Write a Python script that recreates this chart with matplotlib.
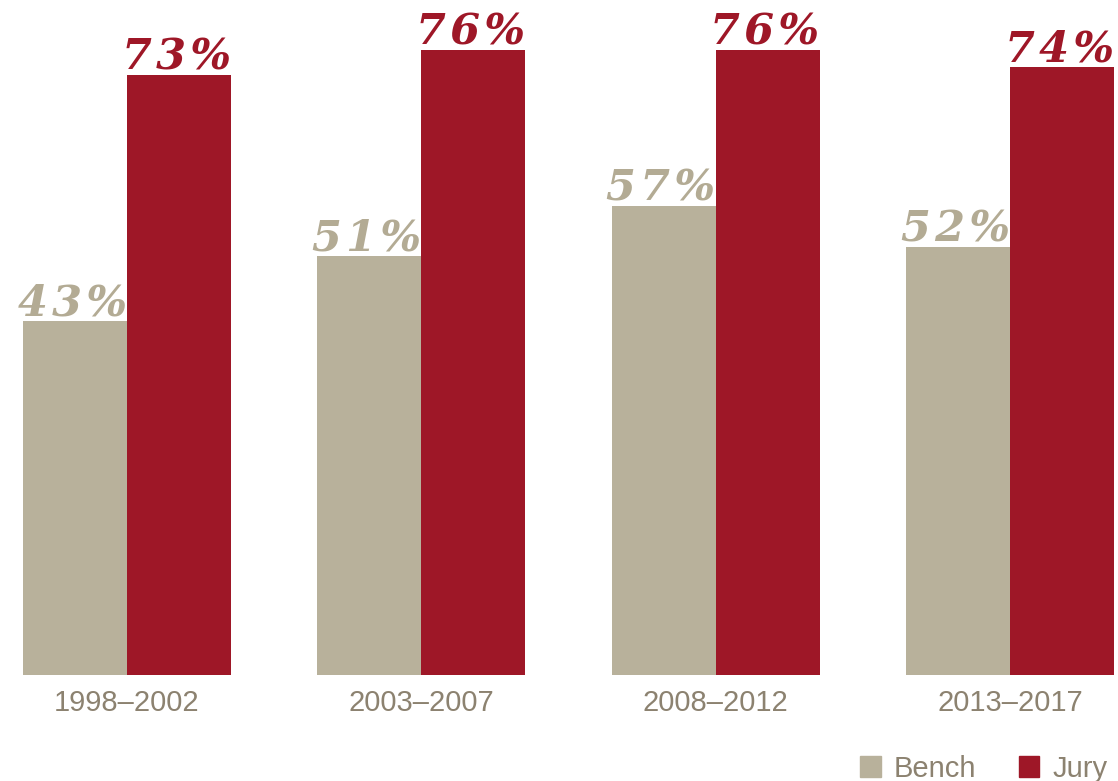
import matplotlib.pyplot as plt
from matplotlib.patches import Patch

periods = ['1998\u20132002', '2003\u20132007', '2008\u20132012', '2013\u20132017']
bench = [43, 51, 57, 52]
jury = [73, 76, 76, 74]

bench_color = '#b8b19b'
jury_color = '#9e1727'
text_color = '#8c8270'

fig = plt.figure(figsize=(11.18, 7.81), dpi=100)
ax = fig.add_axes([0, 0.1357, 1, 0.8643])

width = 0.3534
x = list(range(len(periods)))
bx = [i - width / 2 for i in x]
jx = [i + width / 2 for i in x]
ax.bar(bx, bench, width=width, color=bench_color)
ax.bar(jx, jury, width=width, color=jury_color)

# value labels above each bar, hair spaces to spread the letters a little
for xs, vals, col in [(bx, bench, '#b3ab94'), (jx, jury, jury_color)]:
    for xi, v in zip(xs, vals):
        label = '\u200a'.join(f'{v}%')
        ax.annotate(label, (xi, v), xytext=(-2, 4), textcoords='offset points',
                    ha='center', va='baseline', fontsize=31, fontweight='bold',
                    fontstyle='italic', family='DejaVu Serif', color=col)

ax.set_xlim(-0.4315, 3.367)
ax.set_ylim(0, 82.1)
ax.set_xticks(x)
ax.set_xticklabels(periods, fontsize=21, color=text_color, family='Liberation Sans')
ax.tick_params(axis='x', length=0, pad=10)
ax.set_yticks([])
for s in ax.spines.values():
    s.set_visible(False)

handles = [Patch(color=bench_color, label='Bench'), Patch(color=jury_color, label='Jury')]
leg = fig.legend(handles=handles, loc='lower right', bbox_to_anchor=(1.014, -0.036), ncol=2,
                 frameon=False, handlelength=0.7, handleheight=0.7, handletextpad=0.45,
                 columnspacing=1.45, prop={'family': 'Liberation Sans', 'size': 21})
for t in leg.get_texts():
    t.set_color(text_color)

fig.savefig('out.png', dpi=100)
